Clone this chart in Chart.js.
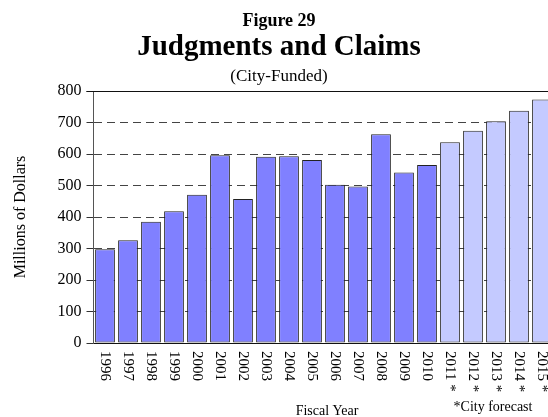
<!DOCTYPE html>
<html>
  <head>
    <meta charset="UTF-8" />
    <title>Judgments and Claims</title>
    <style>
      html, body { margin: 0; padding: 0; background: #fff; overflow: hidden; }
      #wrap { width: 548px; height: 417px; overflow: hidden; }
      canvas { display: block; }
    </style>
  </head>
  <body>
    <div id="wrap"><canvas id="chart" width="556" height="417"></canvas></div>
    <script src="https://cdn.jsdelivr.net/npm/chart.js"></script>
    <script>
      // Fiscal years, the last five are the City's forecast
      const years = ['1996', '1997', '1998', '1999', '2000', '2001', '2002', '2003', '2004', '2005',
                     '2006', '2007', '2008', '2009', '2010', '2011 *', '2012 *', '2013 *', '2014 *', '2015 *'];
      // Millions of dollars
      const claims = [298, 326, 385, 418, 471, 596, 457, 591, 593, 581,
                      502, 497, 663, 541, 565, 637, 674, 704, 737, 773];
      const forecast = [false, false, false, false, false, false, false, false, false, false,
                        false, false, false, false, false, true, true, true, true, true];
      const yTicks = [0, 100, 200, 300, 400, 500, 600, 700, 800];

      const serif = '"Liberation Serif", "Times New Roman", serif';

      // titles, rotated year labels and footnotes
      const extras = {
        id: 'extras',
        afterDraw(chart) {
          const c = chart.ctx;
          const x = chart.scales.x;
          const y = chart.scales.y;
          const area = chart.chartArea;
          c.save();
          // solid top line at 800
          c.strokeStyle = '#111';
          c.lineWidth = 1;
          c.beginPath();
          c.moveTo(area.left - 7, Math.round(y.getPixelForValue(800)) + 0.5);
          c.lineTo(area.right, Math.round(y.getPixelForValue(800)) + 0.5);
          c.stroke();

          c.fillStyle = '#000';
          c.textAlign = 'center';
          c.textBaseline = 'alphabetic';
          c.font = 'bold 18px ' + serif;
          c.fillText('Figure 29', 279, 26);
          c.font = 'bold 29px ' + serif;
          c.fillText('Judgments and Claims', 279, 55);
          c.font = '17px ' + serif;
          c.fillText('(City-Funded)', 279, 81);

          c.font = '14px ' + serif;
          c.fillText('Fiscal Year', 327, 415);
          c.fillText('*City forecast', 493, 411);

          // year labels, read top to bottom
          c.font = '15px ' + serif;
          c.textAlign = 'left';
          c.textBaseline = 'middle';
          years.forEach((label, i) => {
            c.save();
            c.translate(x.getPixelForValue(i), area.bottom + 8);
            c.rotate(Math.PI / 2);
            c.fillText(label, 0, 0);
            c.restore();
          });
          c.restore();
        }
      };

      const ctx = document.getElementById('chart').getContext('2d');
      new Chart(ctx, {
        type: 'bar',
        data: {
          labels: years,
          datasets: [{
            data: claims,
            backgroundColor: (cx) => forecast[cx.dataIndex] ? '#c4caff' : '#8080ff',
            borderColor: '#222',
            borderWidth: 1,
            borderSkipped: false,
            categoryPercentage: 1,
            barPercentage: 0.86,
          }],
        },
        options: {
          responsive: false,
          animation: false,
          layout: { padding: { top: 91, right: 2.5, left: 0, bottom: 0 } },
          plugins: {
            legend: { display: false },
            tooltip: { enabled: false },
          },
          scales: {
            x: {
              grid: { display: false },
              border: { display: true, color: '#111', width: 1 },
              ticks: { display: false },
              afterFit: (s) => { s.height = 74; },
            },
            y: {
              min: 0,
              max: 800,
              afterBuildTicks: (s) => { s.ticks = yTicks.map((v) => ({ value: v })); },
              afterFit: (s) => { s.width = 93.5; },
              grid: {
                color: '#444',
                tickLength: 7,
                tickColor: '#333',
              },
              border: { display: true, color: '#555', width: 1, dash: [8, 5] },
              ticks: {
                color: '#000',
                padding: 5,
                font: { family: serif, size: 16 },
              },
              title: {
                display: true,
                text: 'Millions of Dollars',
                color: '#000',
                padding: { top: 11, bottom: 0 },
                font: { family: serif, size: 16 },
              },
            },
          },
        },
        plugins: [extras],
      });
    </script>
  </body>
</html>
